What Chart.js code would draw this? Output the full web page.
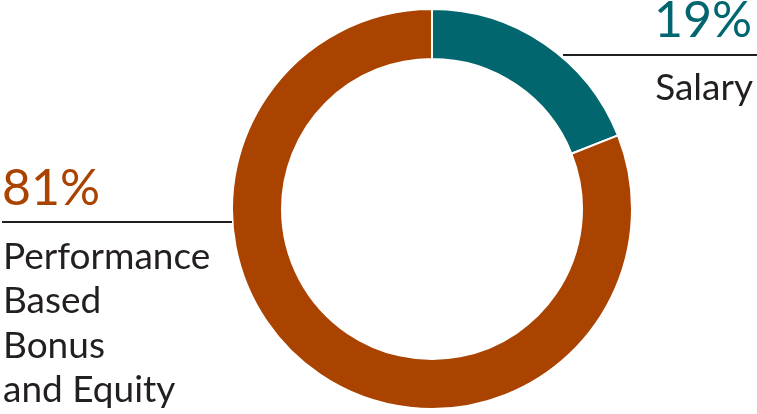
<!DOCTYPE html>
<html>
<head>
<meta charset="utf-8">
<script src="https://cdn.jsdelivr.net/npm/chart.js@4"></script>
<style>
  html, body { margin: 0; padding: 0; background: #fff; }
  #wrap { position: relative; width: 757px; height: 414px; overflow: hidden; font-family: Lato, "Open Sans", sans-serif; }
  #pie { position: absolute; left: 0; top: 0; }
  .lbl { position: absolute; white-space: nowrap; color: #231f20; }
  .pct { font-size: 50px; line-height: 50px; }
  .name { font-size: 37px; line-height: 44.3px; }
  .rule { position: absolute; height: 2px; background: #231f20; }
</style>
</head>
<body>
<div id="wrap">
  <canvas id="pie" width="757" height="414"></canvas>
  <div class="lbl pct" id="pct-salary" style="right: 5px; top: -7px;"></div>
  <div class="rule" style="left: 563px; top: 54px; width: 194px;"></div>
  <div class="lbl name" id="name-salary" style="right: 4px; top: 64px;"></div>
  <div class="lbl pct" id="pct-perf" style="left: 2px; top: 161px;"></div>
  <div class="rule" style="left: 2px; top: 221px; width: 230px;"></div>
  <div class="lbl name" id="name-perf" style="left: 3px; top: 233px;"></div>
</div>
<script>
const categories = ['Salary', 'Performance Based Bonus and Equity'];
const nameLines = [['Salary'], ['Performance', 'Based', 'Bonus', 'and Equity']];
const shares = [19, 81];
const sliceColors = ['#02666e', '#aa4200'];

document.getElementById('pct-salary').textContent = `${shares[0]}%`;
document.getElementById('pct-salary').style.color = sliceColors[0];
document.getElementById('pct-perf').textContent = `${shares[1]}%`;
document.getElementById('pct-perf').style.color = sliceColors[1];
document.getElementById('name-salary').innerHTML = nameLines[0].join('<br>');
document.getElementById('name-perf').innerHTML = nameLines[1].join('<br>');

const chart = new Chart(document.getElementById('pie'), {
  type: 'doughnut',
  data: {
    labels: categories,
    datasets: [{
      data: shares,
      backgroundColor: sliceColors,
      borderColor: '#ffffff',
      borderWidth: 2,
    }],
  },
  options: {
    responsive: false,
    animation: false,
    cutout: '75%',
    rotation: 0,
    layout: { padding: { left: 231, right: 124, top: 8, bottom: 4 } },
    plugins: {
      legend: { display: false },
      tooltip: { enabled: false },
    },
  },
});
</script>
</body>
</html>
